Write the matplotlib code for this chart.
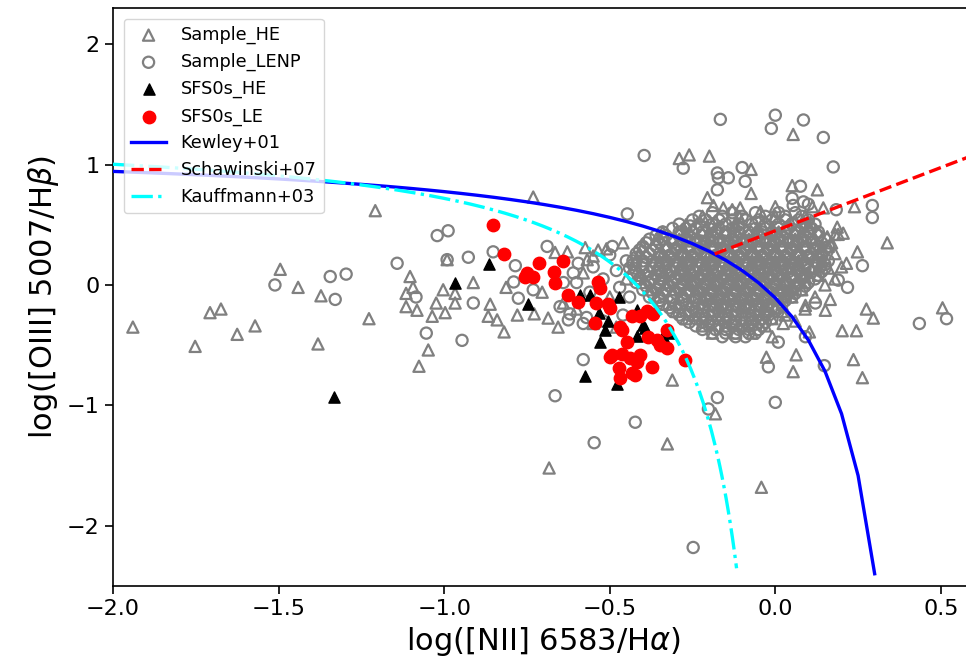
import numpy as np
import matplotlib
matplotlib.use("Agg")
import matplotlib.pyplot as plt

# ---------------- data ----------------
# Sample_HE (open grey triangles), isolated points
he_x = [-1.208, -1.495, -1.441, -1.372, -1.674, -1.707, -1.94, -1.571, -1.625, -1.752, -1.381, -1.227,
        -1.115, -1.103, -1.115, -0.731, -1.094, -1.082, -1.036, -1.024, -0.997, -1.003, -0.991, -0.912,
        -0.861, -0.867, -0.84, -0.819, -1.048, -1.076, -0.813, -0.779, -0.728, -0.686, -0.656, -0.704,
        -0.665, -0.628, -0.574, -0.568, -0.535, -0.967, -0.967,
        -0.683, -0.326, -0.181, -0.042, -0.311,
        -0.29, -0.26, -0.199, -0.073, -0.073, -0.205, -0.187, -0.157, -0.13, -0.045, 0.0, -0.106,
        0.054, 0.051, 0.127, 0.145, 0.112, 0.239, 0.187, 0.205, 0.338, 0.248, 0.215, 0.106, 0.157, 0.181,
        0.275, 0.296, 0.505, 0.202, 0.245, 0.236, 0.263, 0.151, 0.166, 0.091, 0.063, 0.054, 0.103, 0.024,
        -0.009, -0.027,
        -0.60, -0.55, -0.51, -0.46, -0.50, -0.45, -0.58, -0.64, -0.48, -0.55,
        0.03, 0.06, 0.09, 0.12, 0.15, 0.18, 0.20, 0.17, 0.19]
he_y = [0.617, 0.13, -0.02, -0.09, -0.20, -0.23, -0.35, -0.34, -0.41, -0.51, -0.49, -0.28,
        -0.07, 0.07, -0.18, 0.73, -0.02, -0.21, -0.26, -0.15, -0.23, -0.04, 0.21, 0.02,
        -0.16, -0.26, -0.29, -0.39, -0.54, -0.675, -0.02, -0.25, -0.24, -0.275, -0.35, -0.06,
        0.27, 0.275, 0.31, 0.21, 0.29, -0.07, -0.15,
        -1.52, -1.32, -1.07, -1.68, -0.79,
        1.05, 1.08, 1.07, 0.96, 0.76, 0.725, 0.66, 0.64, 0.625, 0.61, 0.65, 0.64,
        1.25, 0.825, 0.79, 0.64, 0.65, 0.65, 0.48, 0.43, 0.35, 0.275, 0.18, 0.52, 0.40, 0.42,
        -0.20, -0.275, -0.19, -0.38, -0.38, -0.62, -0.77, -0.21, -0.12, -0.17, -0.58, -0.72, -0.39, -0.32,
        -0.43, -0.60,
        -0.20, 0.24, 0.30, 0.35, -0.10, 0.05, 0.10, -0.15, -0.35, -0.32,
        -0.25, -0.30, -0.20, -0.10, 0.00, 0.05, 0.15, 0.35, 0.42]

# Sample_LENP (open grey circles), isolated points
lenp_x = [-1.511, -1.344, -1.296, -1.329, -1.142, -1.021, -0.988, -0.991, -0.927, -0.852, -0.785, -0.689,
          -1.085, -0.912, -1.054, -0.946, -0.776, -0.731, -0.64, -0.79, -0.61, -0.595, -0.58, -0.665,
          -0.625, -0.58, -0.65,
          -0.423, -0.547, -0.175, -0.202, 0.0, -0.248,
          -0.166, -0.012, 0.0, -0.396, -0.278, -0.175, -0.172, -0.142, -0.175, -0.1, -0.091, -0.447,
          -0.257, -0.492,
          0.085, 0.145, 0.175, 0.076, 0.051, 0.054, 0.085, 0.1, 0.184, 0.293, 0.293, 0.263, 0.19, 0.218,
          0.435, 0.517, 0.148, 0.121, 0.091, 0.009, -0.021,
          -0.60, -0.56, -0.52, -0.48, -0.47, -0.45, -0.50, -0.55, -0.62, -0.57, -0.52, -0.46, -0.44]
lenp_y = [0.0, 0.07, 0.09, -0.12, 0.18, 0.41, 0.45, 0.21, 0.23, 0.275, 0.16, 0.32,
          -0.10, -0.15, -0.40, -0.46, -0.11, -0.04, 0.02, 0.025, 0.10, 0.18, -0.62, -0.92,
          -0.29, -0.32, -0.18,
          -1.14, -1.31, -0.935, -1.03, -0.975, -2.18,
          1.375, 1.30, 1.41, 1.075, 0.97, 0.93, 0.89, 0.89, 0.79, 0.975, 0.86, 0.59,
          0.49, 0.32,
          1.37, 1.225, 0.98, 0.82, 0.72, 0.66, 0.69, 0.67, 0.625, 0.66, 0.56, 0.16, 0.04, -0.02,
          -0.32, -0.28, -0.67, -0.15, -0.43, -0.475, -0.68,
          0.02, -0.06, 0.05, 0.12, -0.02, 0.20, 0.25, 0.15, -0.24, -0.27, -0.30, -0.25, -0.10]

# dense composite region: rows of LENP circles (row y, x values of that row)
cloud_c_rows_y = [0.60, 0.54, 0.47, 0.41, 0.35, 0.29, 0.23, 0.17, 0.11, 0.05, -0.01, -0.07, -0.13,
                  -0.19, -0.25, -0.31, -0.37, -0.43]
cloud_c_rows_x = [
    [-0.19, -0.13, -0.06, 0.01, 0.06],
    [-0.25, -0.21, -0.17, -0.13, -0.09, -0.05, -0.01, 0.03, 0.07, 0.10],
    [-0.31, -0.27, -0.24, -0.20, -0.17, -0.13, -0.10, -0.06, -0.03, 0.01, 0.04, 0.08, 0.11],
    [-0.36, -0.33, -0.29, -0.26, -0.22, -0.19, -0.15, -0.12, -0.08, -0.05, -0.01, 0.02, 0.06, 0.09, 0.13],
    [-0.39, -0.35, -0.31, -0.28, -0.24, -0.21, -0.17, -0.14, -0.10, -0.07, -0.03, 0.00, 0.04, 0.07, 0.11, 0.14],
    [-0.41, -0.37, -0.33, -0.30, -0.26, -0.23, -0.19, -0.16, -0.12, -0.09, -0.05, -0.02, 0.02, 0.05, 0.09, 0.12, 0.15],
    [-0.42, -0.39, -0.35, -0.32, -0.28, -0.25, -0.21, -0.18, -0.14, -0.11, -0.07, -0.04, 0.00, 0.03, 0.07, 0.10, 0.14],
    [-0.43, -0.40, -0.36, -0.33, -0.29, -0.26, -0.22, -0.19, -0.15, -0.12, -0.08, -0.05, -0.01, 0.02, 0.06, 0.09, 0.13, 0.15],
    [-0.42, -0.38, -0.35, -0.31, -0.28, -0.24, -0.21, -0.17, -0.14, -0.10, -0.07, -0.03, 0.00, 0.04, 0.07, 0.11, 0.14],
    [-0.41, -0.37, -0.34, -0.30, -0.27, -0.23, -0.20, -0.16, -0.13, -0.09, -0.06, -0.02, 0.01, 0.05, 0.08, 0.12],
    [-0.39, -0.35, -0.32, -0.28, -0.25, -0.21, -0.18, -0.14, -0.11, -0.07, -0.04, 0.00, 0.03, 0.06, 0.09],
    [-0.37, -0.34, -0.30, -0.27, -0.23, -0.20, -0.16, -0.13, -0.09, -0.06, -0.02, 0.01, 0.04, 0.06],
    [-0.35, -0.31, -0.28, -0.24, -0.21, -0.17, -0.14, -0.10, -0.07, -0.03, 0.00, 0.03],
    [-0.32, -0.29, -0.25, -0.22, -0.18, -0.15, -0.11, -0.08, -0.04, -0.01, 0.01],
    [-0.29, -0.26, -0.22, -0.19, -0.15, -0.12, -0.08, -0.05, -0.02],
    [-0.26, -0.22, -0.19, -0.15, -0.12, -0.09, -0.05, -0.03],
    [-0.22, -0.18, -0.15, -0.11, -0.08, -0.05],
    [-0.16, -0.12, -0.09],
]
# second, interleaved set of LENP circle rows inside the dense region
cloud_c2_rows_y = [0.57, 0.505, 0.44, 0.38, 0.32, 0.26, 0.20, 0.14, 0.08, 0.02, -0.04, -0.10, -0.16,
                   -0.22, -0.28, -0.34, -0.40]
cloud_c2_rows_x = [
    [-0.23, -0.16, -0.10, -0.03, 0.03, 0.08],
    [-0.29, -0.23, -0.19, -0.15, -0.11, -0.07, -0.03, 0.01, 0.05, 0.09, 0.12],
    [-0.34, -0.29, -0.25, -0.22, -0.18, -0.15, -0.11, -0.08, -0.04, -0.01, 0.03, 0.06, 0.10, 0.13],
    [-0.38, -0.34, -0.31, -0.27, -0.24, -0.20, -0.17, -0.13, -0.10, -0.06, -0.03, 0.01, 0.04, 0.08, 0.11, 0.15],
    [-0.40, -0.36, -0.33, -0.29, -0.26, -0.22, -0.19, -0.15, -0.12, -0.08, -0.05, -0.01, 0.02, 0.06, 0.09, 0.13, 0.16],
    [-0.42, -0.38, -0.35, -0.31, -0.28, -0.24, -0.21, -0.17, -0.14, -0.10, -0.07, -0.03, 0.00, 0.04, 0.07, 0.11, 0.14],
    [-0.43, -0.40, -0.37, -0.33, -0.30, -0.26, -0.23, -0.19, -0.16, -0.12, -0.09, -0.05, -0.02, 0.02, 0.05, 0.08, 0.12, 0.16],
    [-0.44, -0.40, -0.37, -0.33, -0.30, -0.26, -0.23, -0.19, -0.16, -0.12, -0.09, -0.05, -0.02, 0.02, 0.05, 0.09, 0.12, 0.15],
    [-0.43, -0.39, -0.36, -0.32, -0.29, -0.25, -0.22, -0.18, -0.15, -0.11, -0.08, -0.04, -0.01, 0.02, 0.06, 0.09, 0.13],
    [-0.42, -0.38, -0.35, -0.31, -0.28, -0.24, -0.21, -0.17, -0.14, -0.10, -0.07, -0.03, 0.00, 0.03, 0.07, 0.10],
    [-0.40, -0.36, -0.33, -0.29, -0.26, -0.22, -0.19, -0.15, -0.12, -0.08, -0.05, -0.01, 0.02, 0.05, 0.08],
    [-0.38, -0.35, -0.31, -0.28, -0.24, -0.21, -0.17, -0.14, -0.10, -0.07, -0.03, 0.00, 0.03, 0.05],
    [-0.34, -0.30, -0.27, -0.23, -0.19, -0.16, -0.12, -0.09, -0.05, -0.02, 0.02],
    [-0.31, -0.27, -0.24, -0.20, -0.17, -0.13, -0.10, -0.06, -0.03, 0.00],
    [-0.28, -0.24, -0.21, -0.17, -0.14, -0.10, -0.07, -0.04, -0.01],
    [-0.24, -0.20, -0.17, -0.13, -0.10, -0.07, -0.04],
    [-0.19, -0.15, -0.12, -0.08, -0.06],
]
# third set of LENP circle rows filling the core of the dense region
cloud_c3_rows_y = [0.365, 0.305, 0.245, 0.185, 0.125, 0.065, 0.005, -0.055, -0.115, -0.175]
cloud_c3_rows_x = [
    [-0.26, -0.225, -0.19, -0.155, -0.12, -0.085, -0.05, -0.015, 0.02, 0.055, 0.09],
    [-0.30, -0.265, -0.23, -0.195, -0.16, -0.125, -0.09, -0.055, -0.02, 0.015, 0.05, 0.085, 0.12],
    [-0.32, -0.285, -0.25, -0.215, -0.18, -0.145, -0.11, -0.075, -0.04, -0.005, 0.03, 0.065, 0.10, 0.13],
    [-0.33, -0.295, -0.26, -0.225, -0.19, -0.155, -0.12, -0.085, -0.05, -0.015, 0.02, 0.055, 0.09, 0.125],
    [-0.32, -0.285, -0.25, -0.215, -0.18, -0.145, -0.11, -0.075, -0.04, -0.005, 0.03, 0.065, 0.10],
    [-0.30, -0.265, -0.23, -0.195, -0.16, -0.125, -0.09, -0.055, -0.02, 0.015, 0.05, 0.085],
    [-0.28, -0.245, -0.21, -0.175, -0.14, -0.105, -0.07, -0.035, 0.0, 0.035, 0.07],
    [-0.26, -0.225, -0.19, -0.155, -0.12, -0.085, -0.05, -0.015, 0.02, 0.045],
    [-0.23, -0.195, -0.16, -0.125, -0.09, -0.055, -0.02, 0.015],
    [-0.20, -0.165, -0.13, -0.095, -0.06, -0.025],
]
# dense composite region: rows of HE triangles
cloud_t_rows_y = [0.57, 0.44, 0.32, 0.20, 0.08, -0.04, -0.16, -0.28, -0.40,
                  0.50, 0.38, 0.26, 0.14, 0.02, -0.10, -0.22, -0.34]
cloud_t_rows_x = [
    [-0.22, -0.11, 0.0, 0.09],
    [-0.34, -0.27, -0.20, -0.13, -0.06, 0.01, 0.08, 0.13],
    [-0.40, -0.33, -0.26, -0.19, -0.12, -0.05, 0.02, 0.09, 0.16],
    [-0.42, -0.35, -0.28, -0.21, -0.14, -0.07, 0.0, 0.07, 0.14],
    [-0.41, -0.34, -0.27, -0.20, -0.13, -0.06, 0.01, 0.08, 0.13],
    [-0.38, -0.31, -0.24, -0.17, -0.10, -0.03, 0.04, 0.08],
    [-0.33, -0.26, -0.19, -0.12, -0.05, 0.02],
    [-0.27, -0.20, -0.13, -0.06, -0.01],
    [-0.19, -0.12, -0.07],
    [-0.27, -0.19, -0.12, -0.04, 0.04, 0.10],
    [-0.36, -0.29, -0.21, -0.14, -0.08, -0.01, 0.06, 0.12],
    [-0.41, -0.34, -0.27, -0.20, -0.13, -0.06, 0.01, 0.07, 0.13, 0.18],
    [-0.43, -0.36, -0.29, -0.22, -0.15, -0.08, -0.02, 0.05, 0.11, 0.16],
    [-0.40, -0.33, -0.26, -0.19, -0.12, -0.05, 0.02, 0.09],
    [-0.36, -0.29, -0.22, -0.15, -0.08, -0.01, 0.05],
    [-0.30, -0.23, -0.16, -0.09, -0.03, 0.02],
    [-0.22, -0.15, -0.09, -0.03],
]

# SFS0s_HE (filled black triangles)
sfhe_x = [-1.332, -0.967, -0.864, -0.746, -0.574, -0.589, -0.559, -0.532, -0.504, -0.514, -0.529,
          -0.471, -0.417, -0.399, -0.477, -0.417, -0.393, -0.338, -0.317]
sfhe_y = [-0.93, 0.02, 0.17, -0.16, -0.76, -0.08, -0.08, -0.23, -0.30, -0.375, -0.47,
          -0.10, -0.42, -0.33, -0.82, -0.21, -0.36, -0.42, -0.40]

# SFS0s_LE (filled red circles)
sfle_x = [-0.852, -0.819, -0.713, -0.64, -0.749, -0.731, -0.755, -0.668, -0.665, -0.625, -0.595,
          -0.541, -0.535, -0.529, -0.544, -0.498, -0.504, -0.498, -0.468, -0.462, -0.432, -0.408,
          -0.387, -0.369, -0.384, -0.356, -0.447, -0.492, -0.462, -0.438, -0.417, -0.408, -0.372,
          -0.471, -0.468, -0.432, -0.423, -0.347, -0.326, -0.326, -0.272]
sfle_y = [0.50, 0.26, 0.18, 0.20, 0.10, 0.07, 0.07, 0.11, 0.02, -0.08, -0.14,
          -0.15, 0.025, -0.025, -0.32, -0.60, -0.16, -0.19, -0.35, -0.375, -0.26, -0.26,
          -0.22, -0.24, -0.43, -0.46, -0.475, -0.58, -0.57, -0.61, -0.64, -0.58, -0.68,
          -0.69, -0.77, -0.73, -0.75, -0.50, -0.52, -0.375, -0.62]

# demarcation lines (published coefficients)
kew_a, kew_b, kew_c = 0.61, 0.47, 1.19      # Kewley+01
kau_a, kau_b, kau_c = 0.61, 0.05, 1.30      # Kauffmann+03
sch_m, sch_q = 1.05, 0.45                   # Schawinski+07
kew_xrange = (-2.0, 0.30)
kau_xrange = (-2.0, -0.117)
sch_xrange = (-0.183, 0.65)

xticks = [-2.0, -1.5, -1.0, -0.5, 0.0, 0.5]
yticks = [-2, -1, 0, 1, 2]

# ---------------- build arrays ----------------
def flatten(rows_y, rows_x):
    xs, ys = [], []
    for y, row in zip(rows_y, rows_x):
        xs.extend(row)
        ys.extend([y] * len(row))
    return xs, ys

cc_x, cc_y = flatten(cloud_c_rows_y, cloud_c_rows_x)
cc2_x, cc2_y = flatten(cloud_c2_rows_y, cloud_c2_rows_x)
cc3_x, cc3_y = flatten(cloud_c3_rows_y, cloud_c3_rows_x)
ct_x, ct_y = flatten(cloud_t_rows_y, cloud_t_rows_x)
all_he_x = he_x + ct_x
all_he_y = he_y + ct_y
all_lenp_x = lenp_x + cc_x + cc2_x + cc3_x
all_lenp_y = lenp_y + cc_y + cc2_y + cc3_y

# ---------------- plot ----------------
fig = plt.figure(figsize=(9.66, 6.71), dpi=100)
ax = fig.add_axes([113 / 966, 85 / 671, (974 - 113) / 966, (586 - 8) / 671])

ax.scatter(all_he_x, all_he_y, marker='^', s=65, facecolors='none', edgecolors='gray',
           linewidths=1.6, label='Sample_HE', zorder=2)
ax.scatter(all_lenp_x, all_lenp_y, marker='o', s=65, facecolors='none', edgecolors='gray',
           linewidths=1.6, label='Sample_LENP', zorder=2)
ax.scatter(sfhe_x, sfhe_y, marker='^', s=65, color='black', label='SFS0s_HE', zorder=3)
ax.scatter(sfle_x, sfle_y, marker='o', s=80, color='red', label='SFS0s_LE', zorder=4)

xk = np.arange(kew_xrange[0], kew_xrange[1] + 1e-6, 0.05)
ax.plot(xk, kew_a / (xk - kew_b) + kew_c, color='blue', lw=2.4, label='Kewley+01', zorder=5)
xs = np.linspace(sch_xrange[0], sch_xrange[1], 50)
ax.plot(xs, sch_m * xs + sch_q, color='red', ls='--', lw=2.4, label='Schawinski+07', zorder=5)
xf = np.linspace(kau_xrange[0], kau_xrange[1], 300)
ax.plot(xf, kau_a / (xf - kau_b) + kau_c, color='cyan', ls='-.', lw=2.4, label='Kauffmann+03', zorder=5)

ax.set_xlim(-2.0, 0.6)
ax.set_ylim(-2.5, 2.3)
ax.set_xticks(xticks)
ax.set_yticks(yticks)
ax.tick_params(labelsize=16, width=1.2, length=6)
for sp in ax.spines.values():
    sp.set_linewidth(1.2)
ax.set_xlabel(r'log([NII] 6583/H$\alpha$)', fontsize=22)
ax.set_ylabel(r'log([OIII] 5007/H$\beta$)', fontsize=22)

ax.legend(loc='upper left', fontsize=12.8, borderaxespad=0.6)

fig.savefig('out.png', dpi=100)
